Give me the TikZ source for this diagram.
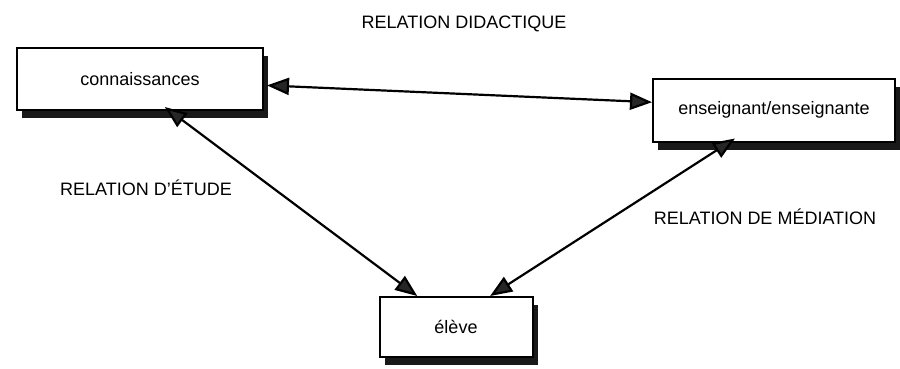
\documentclass[tikz,border=0pt]{standalone}
\usepackage{fontspec}
\setmainfont{Liberation Sans}
\usetikzlibrary{arrows.meta,shadows,calc}
\begin{document}
\begin{tikzpicture}[x=1pt,y=-1pt,
  box/.style={draw=black, line width=2pt, fill=white, inner sep=0pt,
    font=\fontsize{18}{21}\selectfont,
    drop shadow={shadow xshift=5pt, shadow yshift=-8pt, fill=black!90, opacity=1}},
  lbl/.style={font=\fontsize{18}{21}\selectfont, inner sep=0pt},
  rel/.style={line width=2.2pt, black,
    {Triangle[length=22pt,width=17pt,fill=black!85]}-{Triangle[length=22pt,width=17pt,fill=black!85]}}]
\useasboundingbox[fill=white] (0,0) rectangle (900,368);
\node[box, minimum width=246pt, minimum height=62pt] (conn) at (140,79) {connaissances};
\node[box, minimum width=242pt, minimum height=63pt] (ens) at (774,110) {enseignant/enseignante};
\node[box, minimum width=153pt, minimum height=60pt] (eleve) at (456,327) {élève};
\node[lbl] (tdid) at (464,24) {RELATION DIDACTIQUE};
\node[lbl] (tetu) at (146,188) {RELATION D'ÉTUDE};
\node[lbl] (tmed) at (765,217) {RELATION DE MÉDIATION};
\coordinate (c1) at ($(conn.north east)!0.6!(conn.south east)+(3pt,0)$);
\coordinate (e1) at ($(ens.north west)!0.38!(ens.south west)$);
\coordinate (c2) at ($(conn.south west)!0.6!(conn.south east)+(0,4pt)$);
\coordinate (v1) at ($(eleve.north west)!0.25!(eleve.north east)$);
\coordinate (v2) at ($(eleve.north west)!0.72!(eleve.north east)$);
\coordinate (e2) at ($(ens.south west)!0.34!(ens.south east)+(0,4pt)$);
\draw[rel] (c1) -- (e1);
\draw[rel] (c2) -- (v1);
\draw[rel] (v2) -- (e2);
\end{tikzpicture}
\end{document}
